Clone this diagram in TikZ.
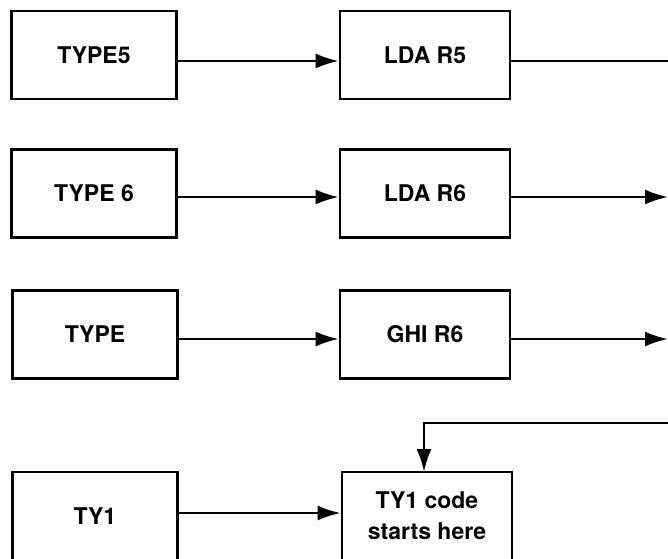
\documentclass[tikz,border=0pt]{standalone}
\usepackage{fontspec}
\setmainfont{TeX Gyre Heros}
\usetikzlibrary{arrows.meta}
\begin{document}
\begin{tikzpicture}[x=1pt,y=-1pt,
  box/.style={draw,line width=2.6pt,minimum height=88pt,inner sep=0pt,font=\bfseries\fontsize{23}{31}\selectfont,align=center},
  lbox/.style={box,minimum width=165pt},
  mbox/.style={box,minimum width=170pt},
  line/.style={line width=2.6pt},
  arr/.style={line,-{Latex[length=23pt,width=15pt]}}]
\useasboundingbox (0,0) rectangle (668,558);
\node[lbox] (t5) at (94,55) {TYPE5};
\node[mbox] (l5) at (425,55) {LDA R5};
\node[lbox] (t6) at (94,193.5) {TYPE 6};
\node[mbox] (l6) at (425,193.5) {LDA R6};
\node[lbox] (t) at (95,334.5) {TYPE};
\node[mbox] (g6) at (425,334.5) {GHI R6};
\node[lbox] (ty1) at (95,516) {TY1};
\node[mbox] (c1) at (427,516) {TY1 code\\starts here};
\coordinate (r1) at (668,61);
\coordinate (r2) at (668,197);
\coordinate (r3) at (668,339);
\coordinate (r4) at (668,423);
\draw[arr] (t5.east |- r1) -- (l5.west |- r1);
\draw[line] (l5.east |- r1) -- (r1);
\draw[arr] (t6.east |- r2) -- (l6.west |- r2);
\draw[arr] (l6.east |- r2) -- (r2);
\draw[arr] (t.east |- r3) -- (g6.west |- r3);
\draw[arr] (g6.east |- r3) -- (r3);
\draw[arr] (ty1.east |- 0,513) -- (c1.west |- 0,513);
\draw[arr] (r4) -- (424,423) -- (424,472);
\end{tikzpicture}
\end{document}
